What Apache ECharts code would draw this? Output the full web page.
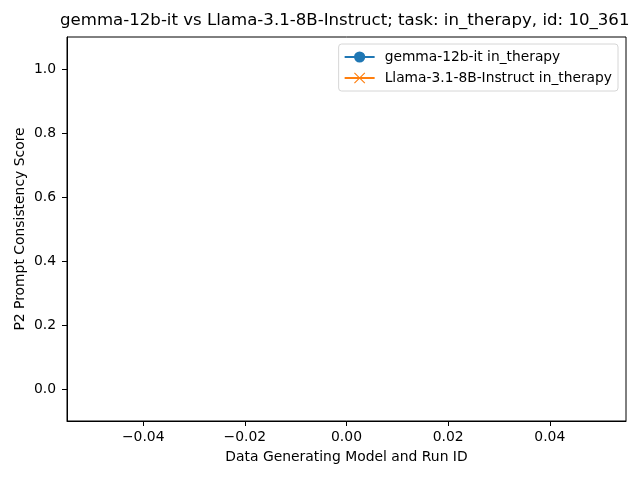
<!DOCTYPE html>
<html>
<head>
<meta charset="utf-8">
<script src="https://cdn.jsdelivr.net/npm/echarts@6/dist/echarts.min.js"></script>
<style>
  html, body { margin: 0; padding: 0; background: #fff; }
  #chart { width: 640px; height: 480px; }
</style>
</head>
<body>
<div id="chart"></div>
<script>
// the source figure has no data points: both series are empty
const gemmaValues = [];
const llamaValues = [];
const seriesNames = ['gemma-12b-it in_therapy', 'Llama-3.1-8B-Instruct in_therapy'];
const xTicks = [-0.04, -0.02, 0.0, 0.02, 0.04];
const yTicks = [0.0, 0.2, 0.4, 0.6, 0.8, 1.0];

const FONT = 'DejaVu Sans';
const crossPath = 'path://M0,0.7 L0.7,0 L5,4.3 L9.3,0 L10,0.7 L5.7,5 L10,9.3 L9.3,10 L5,5.7 L0.7,10 L0,9.3 L4.3,5 Z';

const chart = echarts.init(document.getElementById('chart'), null, { renderer: 'canvas' });

chart.setOption({
  animation: false,
  backgroundColor: '#fff',
  textStyle: { fontFamily: FONT },
  title: {
    text: 'gemma-12b-it vs Llama-3.1-8B-Instruct; task: in_therapy, id: 10_361',
    left: 60,
    top: 12,
    padding: 0,
    textStyle: { fontFamily: FONT, fontSize: 16.6, fontWeight: 'normal', color: '#000' }
  },
  grid: {
    left: 67, right: 14, top: 37, bottom: 59,
    show: true, borderColor: '#000', borderWidth: 1, backgroundColor: 'transparent'
  },
  legend: {
    orient: 'vertical',
    right: 22,
    top: 44,
    padding: [6, 6, 6, 5],
    itemGap: 7,
    itemWidth: 30,
    itemHeight: 14,
    backgroundColor: '#fff',
    borderColor: '#d6d6d6',
    borderWidth: 1,
    borderRadius: 3,
    textStyle: { fontFamily: FONT, fontSize: 13.8, color: '#000', padding: [0, 0, 0, 5] },
    data: seriesNames
  },
  xAxis: {
    type: 'value',
    min: -0.055,
    max: 0.055,
    name: 'Data Generating Model and Run ID',
    nameLocation: 'middle',
    nameGap: 29,
    nameMoveOverlap: false,
    nameTextStyle: { fontFamily: FONT, fontSize: 13.9, color: '#000' },
    axisLine: { show: true, onZero: false, lineStyle: { color: '#000', width: 1 } },
    axisTick: { show: true, length: 5, lineStyle: { color: '#000' }, customValues: xTicks },
    axisLabel: {
      margin: 9, fontFamily: FONT, fontSize: 13.9, color: '#000',
      customValues: xTicks,
      formatter: (v) => (v < 0 ? '\u2212' : '') + Math.abs(v).toFixed(2)
    },
    splitLine: { show: false }
  },
  yAxis: {
    type: 'value',
    min: -0.1,
    max: 1.1,
    name: 'P2 Prompt Consistency Score',
    nameLocation: 'middle',
    nameGap: 40,
    nameMoveOverlap: false,
    nameTextStyle: { fontFamily: FONT, fontSize: 13.9, color: '#000' },
    axisLine: { show: true, onZero: false, lineStyle: { color: '#000', width: 1 } },
    axisTick: { show: true, length: 5, lineStyle: { color: '#000' }, customValues: yTicks },
    axisLabel: {
      margin: 11, fontFamily: FONT, fontSize: 13.9, color: '#000',
      customValues: yTicks,
      formatter: (v) => v.toFixed(1)
    },
    splitLine: { show: false }
  },
  series: [
    {
      name: seriesNames[0],
      type: 'line',
      data: gemmaValues,
      color: '#1f77b4',
      symbol: 'circle',
      symbolSize: 8,
      lineStyle: { width: 2 }
    },
    {
      name: seriesNames[1],
      type: 'line',
      data: llamaValues,
      color: '#ff7f0e',
      symbol: crossPath,
      symbolSize: 8,
      lineStyle: { width: 2 }
    }
  ]
});
</script>
</body>
</html>
